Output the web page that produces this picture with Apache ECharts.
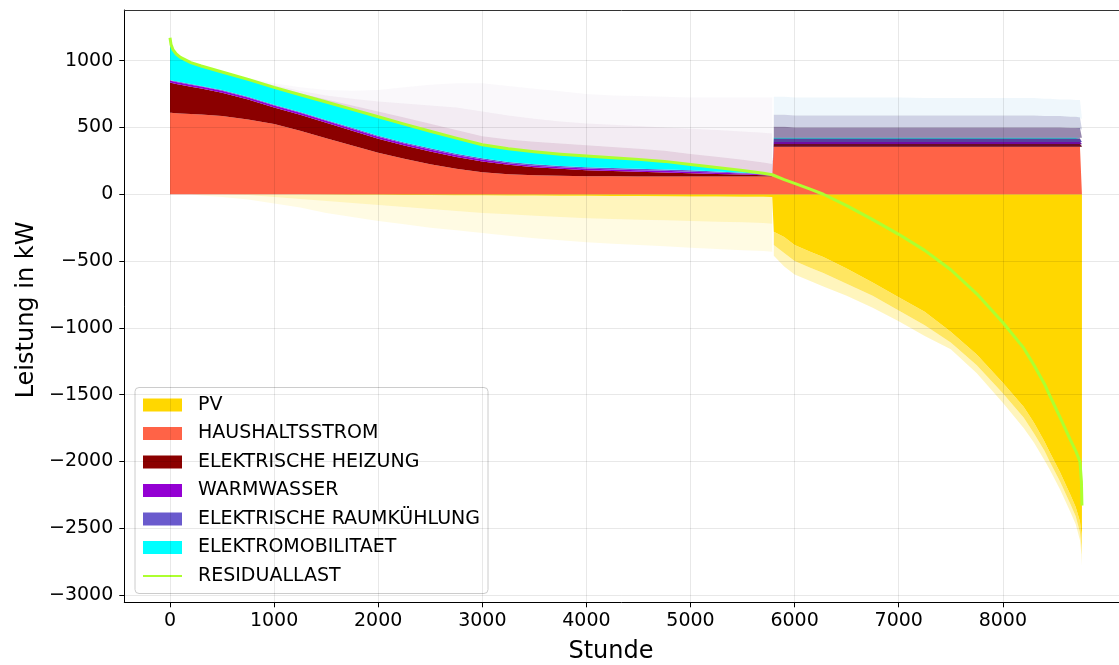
<!DOCTYPE html>
<html>
<head>
<meta charset="utf-8">
<script src="https://cdn.jsdelivr.net/npm/echarts@6/dist/echarts.min.js"></script>
<style>
  html, body { margin: 0; padding: 0; background: #ffffff; }
  #chart { width: 1119px; height: 665px; }
</style>
</head>
<body>
<div id="chart"></div>
<script>
// Hours of the year, sorted by descending residual load (duration curve)
const HOURS = [0, 10, 30, 60, 100, 200, 300, 500, 750, 1000,
  1250, 1500, 1750, 2000, 2250, 2500, 2750, 3000, 3250, 3500,
  3750, 4000, 4250, 4500, 4750, 5000, 5250, 5500, 5700, 5785,
  5800, 5900, 6000, 6150, 6276, 6500, 6750, 7000, 7250, 7500,
  7750, 8000, 8200, 8300, 8400, 8450, 8550, 8650, 8700, 8741,
  8755, 8760];

// Residual load in kW
const RESIDUALLAST = [1172, 1120, 1080, 1050, 1025, 985, 960, 915, 860, 800,
  745, 690, 635, 580, 525, 472, 420, 370, 340, 318,
  300, 286, 274, 261, 246, 222, 200, 178, 157, 146,
  142, 110, 82, 38, 0, -85, -190, -300, -420, -565,
  -745, -960, -1150, -1280, -1420, -1505, -1670, -1840, -1920, -2000,
  -2150, -2330];

// Consumer loads in kW (typical level per hour)
const HAUSHALTSSTROM = [610, 610, 608, 606, 604, 600, 596, 585, 560, 525,
  475, 420, 365, 310, 265, 225, 190, 165, 150, 142,
  138, 135, 134, 133, 133, 132, 132, 132, 132, 132,
  356, 356, 356, 356, 356, 356, 356, 356, 356, 356,
  356, 356, 356, 356, 356, 356, 356, 356, 356, 356,
  356, 356];
const HEIZUNG = [225, 225, 222, 220, 216, 205, 195, 175, 150, 125,
  120, 115, 110, 105, 100, 95, 88, 80, 70, 60,
  52, 45, 40, 35, 30, 25, 20, 15, 10, 6,
  20, 20, 20, 20, 20, 20, 20, 20, 20, 20,
  20, 20, 20, 20, 20, 20, 20, 20, 20, 20,
  20, 20];
const WARMWASSER = [15, 15, 15, 15, 15, 15, 15, 15, 15, 15,
  15, 15, 15, 15, 15, 15, 15, 15, 12, 12,
  12, 12, 12, 12, 12, 12, 10, 8, 6, 4,
  15, 15, 15, 15, 15, 15, 15, 15, 15, 15,
  15, 15, 15, 15, 15, 15, 15, 15, 15, 15,
  15, 15];
const RAUMKUEHLUNG = [5, 5, 5, 5, 5, 5, 5, 5, 5, 5,
  5, 5, 8, 8, 8, 10, 10, 10, 10, 10,
  10, 10, 10, 10, 10, 10, 8, 6, 4, 2,
  25, 25, 25, 25, 25, 25, 25, 25, 25, 25,
  25, 25, 25, 25, 25, 25, 25, 25, 25, 25,
  25, 25];
const ELEKTROMOBILITAET = [317, 265, 230, 204, 185, 160, 149, 135, 130, 130,
  130, 135, 137, 142, 137, 127, 117, 100, 98, 94,
  88, 84, 78, 71, 61, 43, 30, 17, 5, 2,
  6, 6, 6, 6, 6, 6, 6, 6, 6, 6,
  6, 6, 6, 6, 6, 6, 6, 6, 6, 6,
  6, 6];

// Upper reach of the hour-to-hour load peaks in kW (dense, medium, sparse tips)
const LOAD_DENSE_TOP = [1172, 1120, 1080, 1050, 1025, 985, 960, 915, 860, 805,
  755, 710, 665, 620, 575, 527, 480, 435, 410, 393,
  380, 366, 354, 341, 326, 302, 280, 258, 237, 226,
  505, 505, 500, 500, 500, 500, 500, 500, 500, 500,
  500, 500, 500, 500, 500, 500, 500, 495, 495, 495,
  490, 485];
const LOAD_MID_TOP = [1172, 1120, 1080, 1050, 1025, 985, 960, 915, 865, 815,
  775, 740, 715, 695, 680, 665, 650, 620, 590, 565,
  545, 530, 520, 510, 500, 490, 480, 470, 460, 455,
  595, 595, 590, 590, 590, 590, 590, 590, 590, 590,
  590, 590, 590, 590, 585, 585, 585, 580, 580, 575,
  570, 565];
const LOAD_FAINT_TOP = [1172, 1120, 1080, 1050, 1025, 985, 960, 915, 870, 830,
  800, 780, 775, 780, 800, 820, 830, 830, 810, 790,
  770, 750, 740, 735, 730, 725, 725, 725, 725, 725,
  730, 730, 725, 725, 725, 725, 725, 725, 720, 720,
  720, 720, 720, 720, 715, 715, 710, 710, 705, 705,
  700, 700];

// PV feed-in in kW (typical level, denser spread, outer spread)
const PV = [0, 0, 0, 0, 0, 0, 0, 0, 0, 0,
  0, -2, -3, -4, -5, -6, -7, -8, -9, -10,
  -11, -12, -13, -14, -15, -16, -17, -18, -19, -20,
  -280, -320, -380, -430, -470, -555, -660, -770, -880, -1030,
  -1200, -1410, -1590, -1710, -1850, -1930, -2080, -2250, -2340, -2450,
  -2540, -2600];
const PV_MID = [0, 0, 0, 0, 0, 0, 0, 0, -5, -20,
  -35, -50, -65, -80, -95, -110, -125, -140, -150, -160,
  -170, -180, -185, -190, -195, -200, -205, -210, -215, -220,
  -380, -440, -500, -550, -590, -670, -760, -870, -980, -1110,
  -1280, -1490, -1670, -1790, -1920, -2000, -2150, -2320, -2410, -2530,
  -2630, -2700];
const PV_FRINGE = [0, 0, 0, 0, 0, 0, -10, -20, -40, -70,
  -100, -140, -170, -200, -225, -250, -270, -290, -310, -330,
  -345, -360, -370, -380, -390, -400, -410, -420, -425, -430,
  -460, -540, -600, -650, -690, -760, -850, -950, -1060, -1160,
  -1340, -1560, -1750, -1860, -1990, -2060, -2210, -2380, -2470, -2590,
  -2700, -2780];

// First hour of the sunny part of the year
const SUNNY_FROM = 5800;

const X_TICKS = [0, 1000, 2000, 3000, 4000, 5000, 6000, 7000, 8000];
const Y_TICKS = [-3000, -2500, -2000, -1500, -1000, -500, 0, 500, 1000];

const FONT = 'DejaVu Sans';
const X_MIN = -439, X_MAX = 9116;
const Y_MIN = -3054, Y_MAX = 1379;

// Rows are [kW, hour]: the value dimension comes first so that stacking acts on y
const rows = vals => HOURS.map((h, i) => [vals[i], h]);
const sunny = i => HOURS[i] >= SUNNY_FROM;

const loadTop = HOURS.map((h, i) =>
  HAUSHALTSSTROM[i] + HEIZUNG[i] + WARMWASSER[i] + RAUMKUEHLUNG[i] + ELEKTROMOBILITAET[i]);
const denseBand = HOURS.map((h, i) => Math.max(0, LOAD_DENSE_TOP[i] - loadTop[i]));
const midBand = HOURS.map((h, i) => Math.max(0, LOAD_MID_TOP[i] - Math.max(LOAD_DENSE_TOP[i], loadTop[i])));
const faintBand = HOURS.map((h, i) => Math.max(0, LOAD_FAINT_TOP[i] - Math.max(LOAD_MID_TOP[i], LOAD_DENSE_TOP[i], loadTop[i])));
const pvMidBand = HOURS.map((h, i) => PV_MID[i] - PV[i]);
const pvOuterBand = HOURS.map((h, i) => PV_FRINGE[i] - PV_MID[i]);
const coreBand = HOURS.map((h, i) => loadTop[i] - HAUSHALTSSTROM[i]);

// '-' marks hours where a layer is not drawn
const onlyDark = arr => arr.map((v, i) => sunny(i) ? '-' : v);
const onlySunny = arr => arr.map((v, i) => sunny(i) ? v : '-');

function area(name, stack, vals, color, z) {
  return {
    name: name, type: 'line', stack: stack, data: rows(vals),
    encode: { x: 1, y: 0 },
    symbol: 'none', showSymbol: false, z: z || 2,
    lineStyle: { width: 0, color: color },
    itemStyle: { color: color },
    areaStyle: { color: color, opacity: 1 },
    emphasis: { disabled: true },
    silent: true
  };
}

const series = [
  area('PV', 'pv', PV, '#FFD700'),
  area('pv-spread-dark', 'pv', onlyDark(pvMidBand), 'rgba(255,215,0,0.26)'),
  area('pv-spread-sunny', 'pv', onlySunny(pvMidBand), 'rgba(255,215,0,0.62)'),
  area('pv-tips-dark', 'pv', onlyDark(pvOuterBand), 'rgba(255,215,0,0.11)'),
  area('pv-tips-sunny', 'pv', onlySunny(pvOuterBand), 'rgba(255,215,0,0.26)'),
  area('HAUSHALTSSTROM', 'last', HAUSHALTSSTROM, '#FF6347'),
  area('ELEKTRISCHE HEIZUNG', 'last', HEIZUNG, '#8B0000'),
  area('WARMWASSER', 'last', WARMWASSER, '#9400D3'),
  area('ELEKTRISCHE RAUMKÜHLUNG', 'last', RAUMKUEHLUNG, '#6A5ACD'),
  area('ELEKTROMOBILITAET', 'last', ELEKTROMOBILITAET, '#00FFFF'),
  area('load-spread-dark', 'last', onlyDark(denseBand), 'rgba(150,70,130,0.24)'),
  area('load-spread-sunny', 'last', onlySunny(denseBand), 'rgba(75,50,115,0.58)'),
  area('load-mid-dark', 'last', onlyDark(midBand), 'rgba(165,110,160,0.13)'),
  area('load-mid-sunny', 'last', onlySunny(midBand), 'rgba(95,105,170,0.3)'),
  area('load-tips-dark', 'last', onlyDark(faintBand), 'rgba(180,150,200,0.07)'),
  area('load-tips-sunny', 'last', onlySunny(faintBand), 'rgba(140,195,235,0.14)'),
  // mixing veil over the thin summer load layers
  area('veil-base', 'veil', onlySunny(HAUSHALTSSTROM), 'rgba(0,0,0,0)'),
  area('veil', 'veil', onlySunny(coreBand), 'rgba(60,30,90,0.4)'),
  {
    name: 'grid', type: 'line', data: [], z: 3, silent: true,
    markLine: {
      silent: true, symbol: ['none', 'none'], animation: false,
      label: { show: false },
      lineStyle: { color: 'rgba(0,0,0,0.09)', width: 1, type: 'solid' },
      emphasis: { disabled: true },
      data: Y_TICKS.map(v => ({ yAxis: v })).concat(X_TICKS.map(v => ({ xAxis: v })))
    }
  },
  {
    name: 'RESIDUALLAST', type: 'line', data: rows(RESIDUALLAST),
    encode: { x: 1, y: 0 },
    symbol: 'none', showSymbol: false, z: 5, silent: true,
    lineStyle: { color: '#ADFF2F', width: 3, join: 'round' },
    itemStyle: { color: '#ADFF2F' },
    emphasis: { disabled: true }
  }
];

const legendNames = ['PV', 'HAUSHALTSSTROM', 'ELEKTRISCHE HEIZUNG', 'WARMWASSER',
  'ELEKTRISCHE RAUMKÜHLUNG', 'ELEKTROMOBILITAET'];

const minusFmt = v => (v < 0 ? '\u2212' + Math.abs(v) : String(v));

const chart = echarts.init(document.getElementById('chart'), null, { renderer: 'canvas' });
chart.setOption({
  animation: false,
  backgroundColor: '#ffffff',
  grid: { left: 124.3, top: 10, right: 0, bottom: 62.7, containLabel: false },
  xAxis: [{
    type: 'value', min: X_MIN, max: X_MAX, position: 'bottom',
    axisLine: { show: true, onZero: false, lineStyle: { color: '#000', width: 1 } },
    axisTick: { show: true, customValues: X_TICKS, length: 5, lineStyle: { color: '#000', width: 1 } },
    axisLabel: { customValues: X_TICKS, fontFamily: FONT, fontSize: 19, color: '#000', margin: 9, formatter: v => String(v) },
    splitLine: { show: false }
  }, {
    type: 'value', min: X_MIN, max: X_MAX, position: 'top',
    axisLine: { show: true, onZero: false, lineStyle: { color: '#333', width: 1 } },
    axisTick: { show: false }, axisLabel: { show: false }, splitLine: { show: false }
  }],
  yAxis: {
    type: 'value', min: Y_MIN, max: Y_MAX,
    axisLine: { show: true, onZero: false, lineStyle: { color: '#000', width: 1 } },
    axisTick: { show: true, customValues: Y_TICKS, length: 5, lineStyle: { color: '#000', width: 1 } },
    axisLabel: { customValues: Y_TICKS, fontFamily: FONT, fontSize: 19, color: '#000', margin: 11, formatter: minusFmt },
    splitLine: { show: false }
  },
  legend: {
    data: legendNames.map(n => ({ name: n, icon: 'rect' }))
      .concat([{ name: 'RESIDUALLAST', itemStyle: { opacity: 0 } }]),
    orient: 'vertical', left: 135, top: 387.5,
    itemWidth: 39, itemHeight: 13, itemGap: 9.5,
    padding: [8, 8, 8, 7],
    backgroundColor: 'rgba(255,255,255,0.8)',
    borderColor: '#cccccc', borderWidth: 1, borderRadius: 4,
    selectedMode: false,
    textStyle: { fontFamily: FONT, fontSize: 19, color: '#000', lineHeight: 19, padding: [0, 0, 0, 11] }
  },
  graphic: [
    { type: 'text', x: 611, y: 652, style: { text: 'Stunde', font: '24px "DejaVu Sans"', fill: '#000', textAlign: 'center', textVerticalAlign: 'middle' } },
    { type: 'text', x: 27, y: 310, rotation: Math.PI / 2, style: { text: 'Leistung in kW', font: '24px "DejaVu Sans"', fill: '#000', textAlign: 'center', textVerticalAlign: 'middle' } }
  ],
  series: series
});
</script>
</body>
</html>
